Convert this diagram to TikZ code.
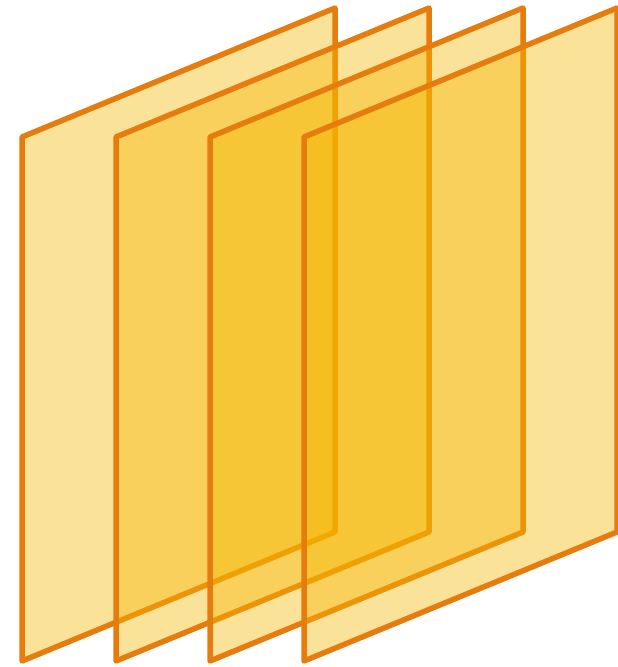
\documentclass[tikz,border=0pt]{standalone}
\begin{document}
\begin{tikzpicture}[x=1pt,y=-1pt,
  plate/.style={draw={rgb,255:red,230;green,124;blue,14}, line width=5.5pt, line join=round,
    fill={rgb,255:red,245;green,182;blue,0}, fill opacity=0.4}]
\useasboundingbox (0,0) rectangle (618,667);
\foreach \i in {0,1,2,3}{
  \pgfmathsetmacro{\dx}{94*\i}
  \draw[plate] (22+\dx,137) -- (335+\dx,8) -- (335+\dx,532) -- (22+\dx,661) -- cycle;
}
\end{tikzpicture}
\end{document}
